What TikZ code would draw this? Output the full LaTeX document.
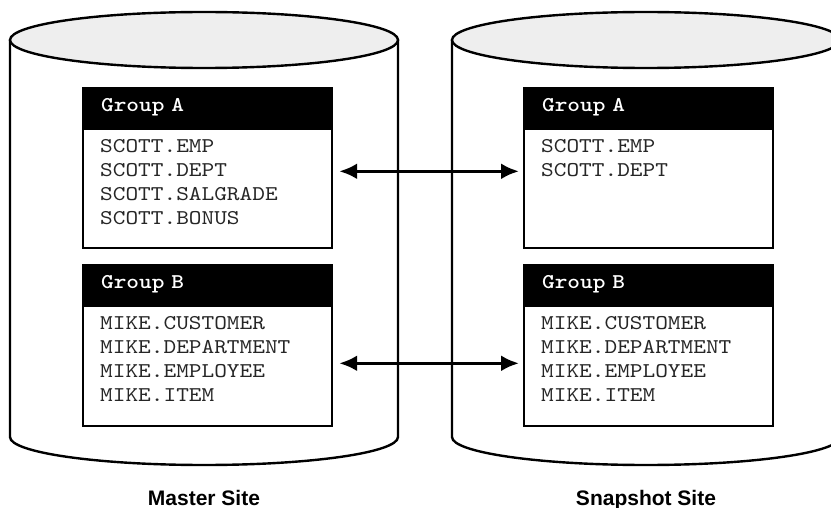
\documentclass[tikz,border=0pt]{standalone}
\usepackage{fontspec}
\setmainfont{Liberation Sans}
\newfontfamily\tabfont{lmmono10-regular.otf}[FakeStretch=1.15,BoldFont=lmmonolt10-bold.otf]
\usetikzlibrary{
  positioning,
  arrows.meta
}
\definecolor{lidgray}{HTML}{EEEEEE}
\tikzset{
  >=Latex,
  siteline/.style={line width=2.4pt},
  grouphead/.style={rectangle,draw,line width=2.2pt,fill=black,text=white,anchor=north west,
    font=\tabfont\bfseries\fontsize{21}{24}\selectfont,text width=213pt,inner xsep=18pt,inner ysep=0pt,
    minimum height=39pt,align=left},
  groupbody/.style={rectangle,draw,line width=2.2pt,fill=white,anchor=north,minimum width=249pt,
    minimum height=119pt,inner sep=0pt},
  tables/.style={anchor=base west,inner sep=0pt,text=black!85,
    font=\tabfont\fontsize{21}{24}\selectfont},
  sitelabel/.style={anchor=base,font=\bfseries\fontsize{21}{24}\selectfont},
  syncarrow/.style={{Latex[length=18pt,width=16pt]}-{Latex[length=18pt,width=16pt]},line width=3.2pt}
}

\begin{document}
\begin{tikzpicture}[x=1pt,y=1pt]
    \useasboundingbox (0,0) rectangle (831,-508);
    \clip (0,0) rectangle (831,-508);
    % the two sites
    \foreach \cx in {204,646} {
        \draw[siteline,fill=white] (\cx-194,-40) -- (\cx-194,-437) arc (180:360:194 and 28) -- (\cx+194,-40);
        \draw[siteline,fill=lidgray] (\cx,-40) ellipse (194 and 28);
    }
    \node[sitelabel] (master) at (204,-505) {Master Site};
    \node[sitelabel] (snapshot) at (646,-505) {Snapshot Site};

    % replication groups
    \foreach \x/\s in {82/m,523/s} {
        \node[grouphead] (\s A) at (\x,-87) {Group A};
        \node[groupbody] (\s Abody) at (\s A.south) {};
        \node[grouphead] (\s B) at (\x,-264) {Group B};
        \node[groupbody,minimum height=120pt] (\s Bbody) at (\s B.south) {};
        \foreach \t [count=\i] in {CUSTOMER,DEPARTMENT,EMPLOYEE,ITEM}
            \node[tables] (\s B\i) at ([shift={(18pt,-24pt*\i)}]\s Bbody.north west) {MIKE.\t};
    }
    \foreach \t [count=\i] in {EMP,DEPT,SALGRADE,BONUS}
        \node[tables] (mA\i) at ([shift={(18pt,-24pt*\i)}]mAbody.north west) {SCOTT.\t};
    \foreach \t [count=\i] in {EMP,DEPT}
        \node[tables] (sA\i) at ([shift={(18pt,-24pt*\i)}]sAbody.north west) {SCOTT.\t};

    \draw[syncarrow] ([shift={(6pt,17.5pt)}]mAbody.east) -- ([shift={(-4pt,17.5pt)}]sAbody.west);
    \draw[syncarrow] ([shift={(6pt,3pt)}]mBbody.east) -- ([shift={(-4pt,3pt)}]sBbody.west);
\end{tikzpicture}
\end{document}
